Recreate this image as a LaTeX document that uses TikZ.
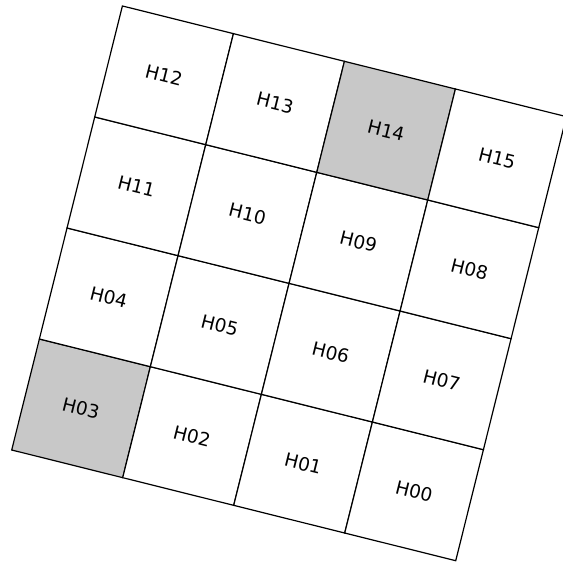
\documentclass[tikz,border=0pt]{standalone}
\usepackage{fontspec}
\setmainfont{DejaVu Sans}
\usepackage{tikz}
\usetikzlibrary{positioning}
\definecolor{hilgray}{RGB}{200,200,200}
\tikzset{
  cell/.style={
    rectangle, draw=black, line width=1.2pt, fill=white,
    minimum size=114.4pt, inner sep=0pt, outer sep=0pt,
    font=\fontsize{18.5}{22}\selectfont
  },
  cellG/.style={
    cell, fill=hilgray
  }
}

\begin{document}
\begin{tikzpicture}
  \useasboundingbox (0,0) rectangle (563pt,563pt);
  \begin{scope}[shift={(11.7pt,113pt)}, rotate=-14, transform shape]
    % bottom row
    \node[cellG, anchor=south west] (h03) at (0,0) {H03};
    \node[cell, right=0pt of h03] (h02) {H02};
    \node[cell, right=0pt of h02] (h01) {H01};
    \node[cell, right=0pt of h01] (h00) {H00};
    % second row
    \node[cell, above=0pt of h03] (h04) {H04};
    \node[cell, right=0pt of h04] (h05) {H05};
    \node[cell, right=0pt of h05] (h06) {H06};
    \node[cell, right=0pt of h06] (h07) {H07};
    % third row
    \node[cell, above=0pt of h04] (h11) {H11};
    \node[cell, right=0pt of h11] (h10) {H10};
    \node[cell, right=0pt of h10] (h09) {H09};
    \node[cell, right=0pt of h09] (h08) {H08};
    % top row
    \node[cell, above=0pt of h11] (h12) {H12};
    \node[cell, right=0pt of h12] (h13) {H13};
    \node[cellG, right=0pt of h13] (h14) {H14};
    \node[cell, right=0pt of h14] (h15) {H15};
  \end{scope}
\end{tikzpicture}
\end{document}
